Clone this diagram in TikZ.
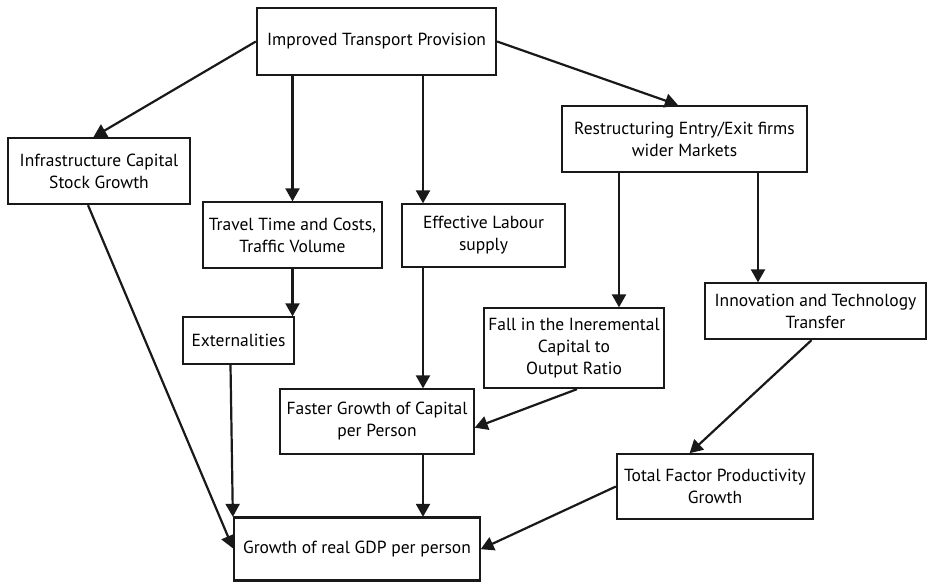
\documentclass[tikz,border=0pt]{standalone}
\usepackage{fontspec}
\setmainfont{PT Sans}
\usetikzlibrary{arrows.meta,positioning}
\tikzset{
  box/.style={draw=black!90, line width=2.3pt, align=center, inner sep=0pt,
    font=\fontsize{17.5}{22}\selectfont},
  arr/.style={line width=2.2pt, draw=black!90, -{Triangle[length=13pt,width=14pt]}, shorten >=-0.5pt},
}
\begin{document}
\begin{tikzpicture}[x=1pt,y=-1pt]
\useasboundingbox (0,0) rectangle (927,582);
\node[box, minimum width=239pt, minimum height=67pt] (itp) at (376.5,41.5) {\raisebox{2pt}{Improved Transport Provision}};
\node[box, minimum width=182pt, minimum height=66pt] (infra) at (99,171) {Infrastructure Capital\\Stock Growth};
\node[box, minimum width=179pt, minimum height=66pt] (travel) at (292.5,235) {Travel Time and Costs,\\Traffic Volume};
\node[box, minimum width=163pt, minimum height=63pt] (labour) at (483.5,235.5) {Effective Labour\\supply};
\node[box, minimum width=245pt, minimum height=66pt] (restr) at (684.5,139) {Restructuring Entry/Exit firms\\wider Markets};
\node[box, minimum width=111pt, minimum height=47pt] (ext) at (238.5,340.5) {Externalities};
\node[box, minimum width=180pt, minimum height=80pt] (fall) at (574,348) {Fall in the Ineremental\\Capital to\\Output Ratio};
\node[box, minimum width=221pt, minimum height=56pt] (innov) at (815.5,311) {Innovation and Technology\\Transfer};
\node[box, minimum width=194pt, minimum height=65pt] (faster) at (377,421.5) {Faster Growth of Capital\\per Person};
\node[box, minimum width=196pt, minimum height=65pt] (tfp) at (715,486.5) {Total Factor Productivity\\Growth};
\node[box, minimum width=246pt, minimum height=63pt] (gdp) at (357,549) {Growth of real GDP per person};

\coordinate (lx) at (423,0);
\coordinate (fx) at (619,0);
\coordinate (ix) at (758,0);

\draw[arr] (itp.west) -- ([xshift=87pt]infra.north west);
\draw[arr] (itp.east) -- ([xshift=-7pt]restr.north);
\draw[arr] (itp.south -| travel.north) -- (travel.north);
\draw[arr] (itp.south -| lx) -- (labour.north -| lx);
\draw[arr] (travel.south) -- (ext.north -| travel.south);
\draw[arr] (labour.south -| lx) -- (faster.north -| lx);
\draw[arr] (faster.south -| lx) -- (gdp.north -| lx);
\draw[arr] ([xshift=-8pt]ext.south) -- (gdp.north west);
\draw[arr] ([xshift=-11pt]infra.south) -- ([yshift=1pt]gdp.west);
\draw[arr] (restr.south -| fx) -- (fall.north -| fx);
\draw[arr] (restr.south -| ix) -- (innov.north -| ix);
\draw[arr] ([xshift=3pt]fall.south) -- ([yshift=-6pt]faster.east);
\draw[arr] ([xshift=-4pt]innov.south) -- ([xshift=-25pt]tfp.north);
\draw[arr] (tfp.west) -- (gdp.east);
\end{tikzpicture}
\end{document}
